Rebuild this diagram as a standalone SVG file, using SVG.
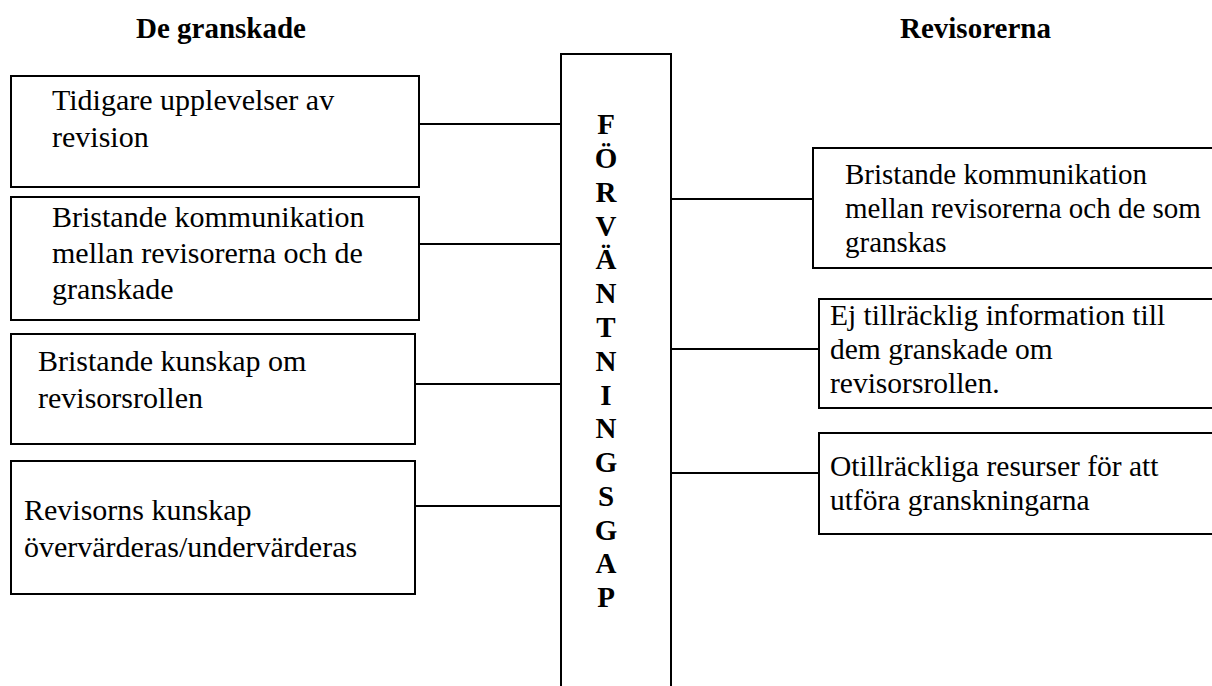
<svg xmlns="http://www.w3.org/2000/svg" width="1212" height="686" viewBox="0 0 1212 686">
  <style>
    .box { fill: #ffffff; stroke: #000000; stroke-width: 2; }
    .link { stroke: #000000; stroke-width: 2; fill: none; }
    .t { font-family: "Liberation Serif", "DejaVu Serif", "Times New Roman", serif; font-size: 30px; font-weight: normal; fill: #000000; }
    .r { font-size: 29.5px; }
    .r1 { font-size: 29px; }
    .h { font-family: "Liberation Serif", "DejaVu Serif", "Times New Roman", serif; font-size: 29px; font-weight: bold; fill: #000000; }
    .col { font-family: "Liberation Serif", "DejaVu Serif", "Times New Roman", serif; font-size: 29px; font-weight: bold; fill: #000000; text-anchor: middle; }
  </style>
  <rect width="1212" height="686" fill="#ffffff"/>

  <!-- column headings -->
  <text class="h" x="136" y="38">De granskade</text>
  <text class="h" x="900" y="38">Revisorerna</text>

  <!-- connectors -->
  <g id="connectors">
    <line class="link" x1="419" y1="124" x2="561" y2="124"/>
    <line class="link" x1="419" y1="244" x2="561" y2="244"/>
    <line class="link" x1="415" y1="384" x2="561" y2="384"/>
    <line class="link" x1="415" y1="506" x2="561" y2="506"/>
    <line class="link" x1="671" y1="199" x2="813" y2="199"/>
    <line class="link" x1="671" y1="349" x2="819" y2="349"/>
    <line class="link" x1="671" y1="473" x2="819" y2="473"/>
  </g>

  <!-- central vertical bar -->
  <g id="gap">
    <rect class="box" x="561" y="54" width="110" height="660"/>
    <text class="col" x="606" y="134">F</text>
    <text class="col" x="606" y="168">Ö</text>
    <text class="col" x="606" y="202">R</text>
    <text class="col" x="606" y="236">V</text>
    <text class="col" x="606" y="269">Ä</text>
    <text class="col" x="606" y="303">N</text>
    <text class="col" x="606" y="337">T</text>
    <text class="col" x="606" y="371">N</text>
    <text class="col" x="606" y="405">I</text>
    <text class="col" x="606" y="438">N</text>
    <text class="col" x="606" y="472">G</text>
    <text class="col" x="606" y="506">S</text>
    <text class="col" x="606" y="540">G</text>
    <text class="col" x="606" y="573">A</text>
    <text class="col" x="606" y="607">P</text>
  </g>

  <!-- left side: the audited -->
  <g id="left1">
    <rect class="box" x="11" y="76" width="408" height="111"/>
    <text class="t" x="52" y="110">Tidigare upplevelser av</text>
    <text class="t" x="52" y="147">revision</text>
  </g>
  <g id="left2">
    <rect class="box" x="11" y="197" width="408" height="123"/>
    <text class="t" x="52" y="227">Bristande kommunikation</text>
    <text class="t" x="52" y="263">mellan revisorerna och de</text>
    <text class="t" x="52" y="299">granskade</text>
  </g>
  <g id="left3">
    <rect class="box" x="11" y="334" width="404" height="110"/>
    <text class="t" x="38" y="371">Bristande kunskap om</text>
    <text class="t" x="38" y="408">revisorsrollen</text>
  </g>
  <g id="left4">
    <rect class="box" x="11" y="461" width="404" height="133"/>
    <text class="t" x="24" y="520">Revisorns kunskap</text>
    <text class="t" x="24" y="557">övervärderas/undervärderas</text>
  </g>

  <!-- right side: the auditors -->
  <g id="right1">
    <rect class="box" x="813" y="148" width="410" height="120"/>
    <text class="t r1" x="845" y="184">Bristande kommunikation</text>
    <text class="t r1" x="845" y="218">mellan revisorerna och de som</text>
    <text class="t r1" x="845" y="252">granskas</text>
  </g>
  <g id="right2">
    <rect class="box" x="819" y="299" width="404" height="109"/>
    <text class="t r" x="830" y="325">Ej tillräcklig information till</text>
    <text class="t r" x="830" y="359">dem granskade om</text>
    <text class="t r" x="830" y="393">revisorsrollen.</text>
  </g>
  <g id="right3">
    <rect class="box" x="819" y="433" width="404" height="101"/>
    <text class="t r" x="830" y="476">Otillräckliga resurser för att</text>
    <text class="t r" x="830" y="510">utföra granskningarna</text>
  </g>
</svg>
